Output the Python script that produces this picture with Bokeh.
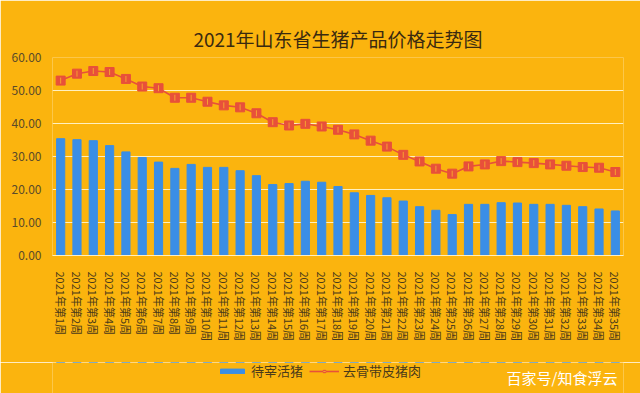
from bokeh.plotting import figure
from bokeh.layouts import column
from bokeh.models import Legend, LegendItem, NumeralTickFormatter, FixedTicker, Range1d, Label
from bokeh.embed import file_html
from bokeh.resources import INLINE
from math import pi

weeks = ["2021年第%d周" % i for i in range(1, 36)]
live_pig = [35.4, 35.1, 34.8, 33.3, 31.4, 29.7, 28.3, 26.4, 27.6, 26.7,
            26.7, 25.7, 24.2, 21.5, 21.8, 22.5, 22.2, 20.9, 19.0, 18.2,
            17.5, 16.5, 14.8, 13.7, 12.4, 15.5, 15.5, 16.0, 15.9, 15.5,
            15.5, 15.2, 14.8, 14.1, 13.5]
pork = [53.0, 55.1, 55.9, 55.6, 53.5, 51.2, 50.7, 47.8, 47.8, 46.6,
        45.5, 44.9, 43.1, 40.4, 39.4, 39.9, 39.1, 38.1, 36.7, 34.8,
        33.0, 30.5, 28.5, 26.3, 24.8, 27.0, 27.6, 28.6, 28.3, 28.0,
        27.6, 27.2, 26.8, 26.6, 25.3]
y_ticks = [0, 10, 20, 30, 40, 50, 60]
series_names = ["待宰活猪", "去骨带皮猪肉"]
watermark = "百家号/知食浮云"

BG = "#FBB40E"
FONT = "Noto Sans CJK SC"
TXT = "#4a3a1a"
RED = "#E8503A"
BLUE = "#3A8EE6"
STRIPE = "#F7A030"


def draw_series(fig):
    b = fig.vbar(x=weeks, top=live_pig, width=0.5, color=BLUE)
    l = fig.line(x=weeks, y=pork, color=RED, line_width=1.6)
    m = fig.scatter(x=weeks, y=pork, marker="square", size=9, fill_color=RED, line_color=RED)
    s = fig.scatter(x=weeks, y=pork, marker="dash", angle=pi / 2, size=6,
                    line_color=STRIPE, line_width=1)
    return b, l, m, s


# ---------- main chart ----------
p = figure(width=640, height=362, x_range=weeks, y_range=Range1d(0, 60),
           output_backend="svg", toolbar_location=None,
           min_border_left=52, min_border_right=17, min_border_top=57, min_border_bottom=107)
p.background_fill_color = BG
p.border_fill_color = BG
p.outline_line_color = None

p.title.text = "2021年山东省生猪产品价格走势图"
p.title.align = "center"
p.title.vertical_align = "middle"
p.title.text_font = FONT
p.title.text_font_size = "19px"
p.title.text_font_style = "normal"
p.title.text_color = "#3a2a10"

draw_series(p)

p.yaxis.ticker = FixedTicker(ticks=y_ticks)
p.yaxis.formatter = NumeralTickFormatter(format="0.00")
p.yaxis.axis_line_color = None
p.yaxis.major_tick_line_color = None
p.yaxis.minor_tick_line_color = None
p.yaxis.major_label_text_font = FONT
p.yaxis.major_label_text_font_size = "12px"
p.yaxis.major_label_text_color = "#5a4a2a"

p.xaxis.axis_line_color = "#FFF0C0"
p.xaxis.major_tick_line_color = None
p.xaxis.major_label_orientation = "vertical"
p.xaxis.major_label_text_font = FONT
p.xaxis.major_label_text_font_size = "11px"
p.xaxis.major_label_text_color = TXT
p.xaxis.major_label_standoff = 10

p.xgrid.grid_line_color = None
p.ygrid.grid_line_color = "#FFF0C0"
p.ygrid.grid_line_width = 1

# ---------- legend strip (series drawn out of view, used only for the legend) ----------
p2 = figure(width=640, height=31, x_range=weeks, y_range=Range1d(-2, -1),
            output_backend="svg", toolbar_location=None,
            min_border_left=52, min_border_right=17, min_border_top=0, min_border_bottom=0)
p2.background_fill_color = BG
p2.border_fill_color = BG
p2.outline_line_color = None
p2.xaxis.visible = False
p2.yaxis.visible = False
p2.xgrid.visible = False
p2.ygrid.visible = False

lb, ll, lm, ls = draw_series(p2)

legend = Legend(items=[LegendItem(label=series_names[0], renderers=[lb]),
                       LegendItem(label=series_names[1], renderers=[ll, lm, ls])],
                orientation="horizontal", location=(165, 13),
                background_fill_alpha=0, border_line_color=None,
                label_text_font=FONT, label_text_font_size="13px",
                label_text_color=TXT, glyph_width=30, glyph_height=6, spacing=6,
                label_standoff=4, label_height=16, padding=0, margin=0)
p2.add_layout(legend, "center")

wm = Label(x=565, y=16, x_units="screen", y_units="screen", text=watermark,
           text_align="right", text_baseline="middle",
           text_font=FONT, text_font_size="15px", text_color="#FFFFFF")
p2.add_layout(wm)

open("out.html", "w").write(file_html(column(p, p2, spacing=0), INLINE))
